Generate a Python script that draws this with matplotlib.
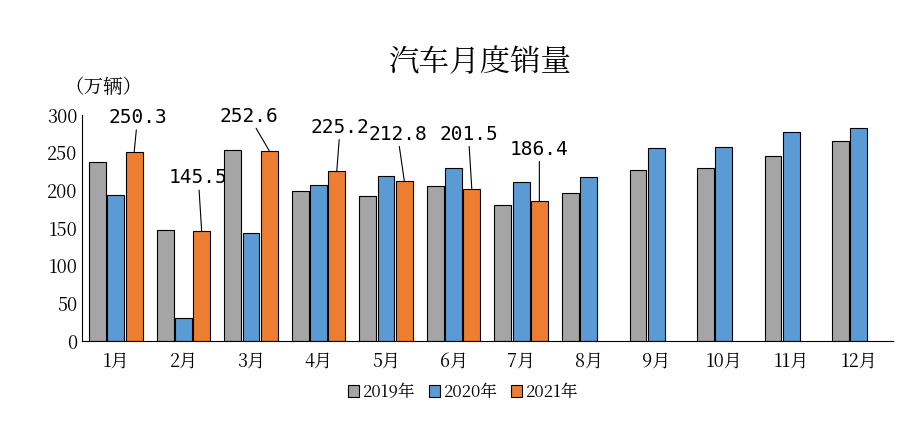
import matplotlib as mpl
mpl.use('Agg')
import matplotlib.pyplot as plt
from matplotlib import font_manager
import numpy as np

# pick up whatever CJK font is installed
cjk = [f for f in font_manager.fontManager.ttflist if 'CJK' in f.name]
cjk_name = None
for pref in ['SC', 'JP', 'TC', 'KR', '']:
    for f in cjk:
        if f.name.endswith(pref):
            cjk_name = f.name
            break
    if cjk_name:
        break
plt.rcParams['font.family'] = [cjk_name or 'DejaVu Sans', 'DejaVu Sans']

months = ['1月', '2月', '3月', '4月', '5月', '6月', '7月', '8月', '9月', '10月', '11月', '12月']
sales_2019 = [238, 148, 253, 199, 192, 206, 181, 196, 227, 229, 246, 266]
sales_2020 = [194, 31, 143, 207, 219, 230, 211, 218, 256, 257, 277, 283]
sales_2021 = [250.3, 145.5, 252.6, 225.2, 212.8, 201.5, 186.4]
# label positions (x offset in groups, y in data units)
label_pos = [(0.05, 284), (-0.05, 204), (-0.3, 286), (0.05, 271), (-0.1, 262), (-0.05, 262), (0.0, 242)]

fig = plt.figure(figsize=(9.23, 4.44), dpi=100)
ax = fig.add_axes([0.089, 0.232, 0.878, 0.509])

x = np.arange(len(months))
step = 0.27
w = 0.25
ax.bar(x - step, sales_2019, w, color='#a5a5a5', edgecolor='black', linewidth=0.8, label='2019年')
ax.bar(x, sales_2020, w, color='#5b9bd5', edgecolor='black', linewidth=0.8, label='2020年')
x21 = x[:len(sales_2021)] + step
ax.bar(x21, sales_2021, w, color='#ed7d31', edgecolor='black', linewidth=0.8, label='2021年')

for xi, v, (dx, ty) in zip(x21, sales_2021, label_pos):
    ax.annotate(f'{v:.1f}', xy=(xi, v), xytext=(xi + dx, ty), ha='center', va='bottom',
                fontsize=14, fontfamily='DejaVu Sans Mono',
                arrowprops=dict(arrowstyle='-', color='black', lw=0.8, shrinkA=0, shrinkB=0))

ax.set_xlim(-0.5, len(months) - 0.5)
ax.set_ylim(0, 300)
ax.set_yticks(range(0, 301, 50))
ax.set_xticks(x)
ax.set_xticklabels(months, fontsize=13)
ax.tick_params(axis='y', labelsize=13, length=0)
ax.tick_params(axis='x', length=0, pad=8)
for s in ['top', 'right']:
    ax.spines[s].set_visible(False)

fig.text(0.52, 0.84, '汽车月度销量', ha='center', fontsize=22)
fig.text(0.07, 0.79, '（万辆）', fontsize=14)
ax.legend(loc='upper center', bbox_to_anchor=(0.47, -0.12), ncol=3, frameon=False,
          fontsize=12, handlelength=0.7, handletextpad=0.2, columnspacing=0.8)

fig.savefig('out.png', dpi=100)
